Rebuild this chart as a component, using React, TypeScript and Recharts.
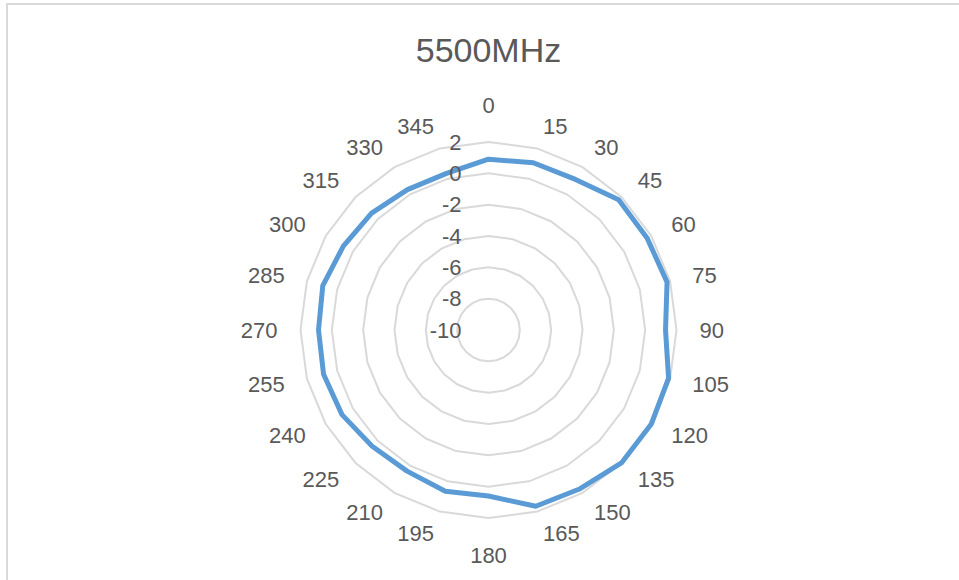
import React from "react";
import {
  RadarChart,
  Radar,
  PolarGrid,
  PolarAngleAxis,
  PolarRadiusAxis,
} from "recharts";

// azimuth (deg) and gain (dB)
const angles = [
  "0", "15", "30", "45", "60", "75", "90", "105", "120", "135", "150", "165",
  "180", "195", "210", "225", "240", "255", "270", "285", "300", "315", "330", "345",
];
const gain = [
  0.9, 1.05, 1.1, 1.75, 1.7, 1.8, 1.3, 1.9, 2.0, 2.0, 1.7, 1.65,
  0.6, 0.65, 0.4, 0.5, 0.8, 0.9, 0.85, 0.95, 0.7, 0.55, 0.35, 0.35,
];
const radiusTicks = [-10, -8, -6, -4, -2, 0, 2];

const data = angles.map((a, i) => ({ angle: a, gain: gain[i] }));

const W = 959;
const H = 580;
const CX = 488.5;
const CY = 330;
const R = 188;
const FONT = '"Liberation Sans", Arial, sans-serif';
const TEXT = "#595959";
const GRID = "#d9d9d9";
const FS = 22;

// Excel-like label placement: box edge sits on a circle of r0
function AngleTick(props: any) {
  const { payload } = props;
  const label = String(payload.value);
  const idx = angles.indexOf(label);
  const t = (idx * 15 * Math.PI) / 180;
  const s = Math.sin(t);
  const c = Math.cos(t);
  const r0 = 211;
  const w = label.length * 0.556 * FS;
  let x = CX + r0 * s;
  let y = CY - r0 * c;
  if (Math.abs(s) < 0.01) {
    y -= Math.sign(c) * 14;
  } else {
    x += (Math.sign(s) * w) / 2;
  }
  return (
    <text
      x={x}
      y={y}
      textAnchor="middle"
      dominantBaseline="central"
      fill={TEXT}
      fontSize={FS}
      fontFamily={FONT}
    >
      {label}
    </text>
  );
}

function RadiusTick(props: any) {
  const { x, y, payload } = props;
  return (
    <text
      x={x - 27}
      y={y}
      textAnchor="end"
      dominantBaseline="central"
      fill={TEXT}
      fontSize={FS}
      fontFamily={FONT}
    >
      {payload.value}
    </text>
  );
}

export default function App() {
  return (
    <div
      style={{
        position: "absolute",
        left: 0,
        top: 0,
        width: W,
        height: H,
        background: "#fff",
        overflow: "hidden",
      }}
    >
      <div
        style={{
          position: "absolute",
          left: 6,
          top: 3,
          width: W - 6,
          height: H - 3,
          borderTop: `2px solid ${GRID}`,
          borderLeft: `2px solid ${GRID}`,
          boxSizing: "border-box",
        }}
      />
      <div
        style={{
          position: "absolute",
          left: CX - 200,
          top: 33,
          width: 400,
          textAlign: "center",
          fontFamily: FONT,
          fontSize: 34,
          lineHeight: "34px",
          color: TEXT,
        }}
      >
        5500MHz
      </div>
      <div style={{ position: "absolute", left: 0, top: 0 }}>
        <RadarChart
          width={W}
          height={H}
          data={data}
          cx={CX}
          cy={CY}
          outerRadius={R}
          margin={{ top: 0, right: 0, bottom: 0, left: 0 }}
        >
          <PolarGrid
            gridType="polygon"
            radialLines={false}
            stroke={GRID}
            strokeWidth={2}
          />
          <PolarAngleAxis
            dataKey="angle"
            axisLine={false}
            tickLine={false}
            tick={<AngleTick />}
          />
          <PolarRadiusAxis
            angle={90}
            domain={[-10, 2]}
            ticks={radiusTicks as any}
            tickCount={radiusTicks.length}
            allowDataOverflow
            axisLine={false}
            tickLine={false}
            tick={<RadiusTick />}
          />
          <Radar
            dataKey="gain"
            stroke="#5b9bd5"
            strokeWidth={5}
            strokeLinejoin="round"
            fill="none"
            fillOpacity={0}
            dot={false}
            isAnimationActive={false}
          />
        </RadarChart>
      </div>
    </div>
  );
}
